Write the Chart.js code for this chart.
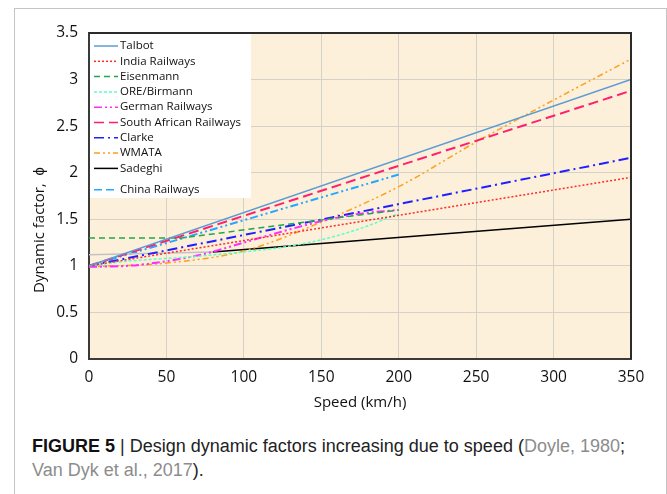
<!DOCTYPE html>
<html lang="en">
<head>
  <meta charset="UTF-8">
  <title>Design dynamic factors</title>
  <script src="https://cdn.jsdelivr.net/npm/chart.js"></script>
  <style>
    body { margin: 0; background: #fff; width: 667px; height: 494px; overflow: hidden; position: relative; }
    .frame { position: absolute; left: 14px; top: 8px; width: 653px; height: 500px; box-sizing: border-box; border: 1px solid #c4c4c4; }
    .wrap { position: absolute; left: 0; top: 0; width: 667px; height: 420px; }
    .caption { position: absolute; left: 32px; top: 434px; width: 632px; font-family: "Liberation Sans", Roboto, sans-serif; font-size: 18px; line-height: 24px; color: #222; }
    .caption b { color: #111; }
    .caption span { color: #8c8c8c; }
  </style>
</head>
<body>
  <div class="frame"></div>
  <div class="wrap"><canvas id="myChart" width="667" height="420"></canvas></div>
  <div class="caption"><b>FIGURE 5</b> | Design dynamic factors increasing due to speed (<span>Doyle, 1980</span>;<br><span>Van Dyk et al., 2017</span>).</div>

  <script>
    // values
    const speedFull = [0, 350];
    const talbot = [1.0, 3.0];
    const indiaRailways = [1.0, 1.95];
    const southAfrican = [1.0, 2.88];
    const clarke = [1.0, 2.16];

    const eisenmannSpeed = [0, 60, 200];
    const eisenmann = [1.3, 1.3, 1.6];

    const curveSpeed = [0, 25, 50, 75, 100, 125, 150, 175, 200];
    const oreBirmann = [1.0, 1.05, 1.08, 1.11, 1.15, 1.2, 1.28, 1.4, 1.56];
    const germanRailways = [0.99, 1.0, 1.05, 1.13, 1.25, 1.37, 1.48, 1.56, 1.6];

    const wmataSpeed = [0, 50, 100, 150, 200, 250, 300, 350];
    const wmata = [0.99, 1.03, 1.16, 1.47, 1.85, 2.33, 2.78, 3.22];

    const sadeghiSpeed = [0, 80, 350];
    const sadeghi = [1.12, 1.15, 1.5];

    const chinaSpeed = [0, 200];
    const chinaRailways = [1.0, 1.98];

    const xTicks = [0, 50, 100, 150, 200, 250, 300, 350];
    const yTicks = [0, 0.5, 1, 1.5, 2, 2.5, 3, 3.5];

    const pts = (xs, ys) => xs.map((x, i) => ({ x: x, y: ys[i] }));

    const line = (label, data, color, dash, width, curved) => ({
      label: label,
      data: data,
      borderColor: color,
      backgroundColor: color,
      borderDash: dash,
      borderWidth: width,
      pointRadius: 0,
      fill: false,
      tension: curved ? 0.3 : 0,
      cubicInterpolationMode: curved ? 'monotone' : 'default'
    });

    const datasets = [
      line('Talbot', pts(speedFull, talbot), '#5b9bd5', [], 1.5),
      line('India Railways', pts(speedFull, indiaRailways), '#ff2a2a', [2, 2], 1.5),
      line('Eisenmann', pts(eisenmannSpeed, eisenmann), '#1fa64e', [6, 4], 1.5),
      line('ORE/Birmann', pts(curveSpeed, oreBirmann), '#5cffc4', [3, 2], 1.5, true),
      line('German Railways', pts(curveSpeed, germanRailways), '#ff2bff', [8, 3, 2, 3, 2, 3], 2, true),
      line('South African Railways', pts(speedFull, southAfrican), '#ff1f6a', [10, 5], 2),
      line('Clarke', pts(speedFull, clarke), '#1f1fff', [10, 4, 2, 4], 2),
      line('WMATA', pts(wmataSpeed, wmata), '#ff9f1a', [6, 3, 2, 3, 2, 3], 1.5, true),
      line('Sadeghi', pts(sadeghiSpeed, sadeghi), '#000000', [], 1.5),
      line('China Railways', pts(chinaSpeed, chinaRailways), '#24a8ff', [8, 3, 2, 3, 2, 3], 2)
    ];
    // first stretch of Sadeghi shows faint in the figure
    datasets[8].segment = { borderColor: ctx => ctx.p0.parsed.x < 80 ? '#c2c2c2' : '#000000' };
    datasets[9].legendDash = [8, 4];

    const plotLook = {
      id: 'plotLook',
      beforeDraw(chart) {
        const { ctx, chartArea: a } = chart;
        ctx.save();
        ctx.fillStyle = '#fcf0da';
        ctx.fillRect(a.left, a.top, a.right - a.left, a.bottom - a.top);
        ctx.restore();
      },
      afterDraw(chart) {
        const { ctx, chartArea: a } = chart;
        ctx.save();
        // top and right frame of the plot
        ctx.strokeStyle = '#2b2b2b';
        ctx.lineWidth = 2;
        ctx.beginPath();
        ctx.moveTo(a.left, a.top);
        ctx.lineTo(a.right, a.top);
        ctx.lineTo(a.right, a.bottom);
        ctx.stroke();

        // legend box sitting inside the plot
        ctx.fillStyle = '#ffffff';
        ctx.fillRect(a.left + 1, a.top + 1, 161, 164);
        ctx.font = '11.5px "Open Sans", sans-serif';
        ctx.textBaseline = 'middle';
        chart.data.datasets.forEach((ds, i) => {
          const y = a.top + 13 + i * 15.3 + (i === 9 ? 6 : 0);
          ctx.strokeStyle = ds.borderColor;
          ctx.lineWidth = 1.5;
          ctx.setLineDash(ds.legendDash || ds.borderDash);
          ctx.beginPath();
          ctx.moveTo(a.left + 5, y);
          ctx.lineTo(a.left + 29, y);
          ctx.stroke();
          ctx.setLineDash([]);
          ctx.fillStyle = '#111';
          ctx.fillText(ds.label, a.left + 31, y);
        });

        // y axis title
        ctx.translate(40, 230);
        ctx.rotate(-Math.PI / 2);
        ctx.font = '15px "Open Sans", sans-serif';
        ctx.textAlign = 'center';
        ctx.fillStyle = '#111';
        ctx.fillText('Dynamic factor,  \u03D5', 0, 0);
        ctx.restore();
      }
    };

    new Chart(document.getElementById('myChart'), {
      type: 'line',
      data: { datasets: datasets },
      plugins: [plotLook],
      options: {
        responsive: false,
        animation: false,
        layout: { padding: { top: 33, right: 36, bottom: 0, left: 0 } },
        plugins: { legend: { display: false }, tooltip: { enabled: false } },
        scales: {
          x: {
            type: 'linear',
            min: 0,
            max: 350,
            afterFit: s => { s.height = 61; },
            afterBuildTicks: s => { s.ticks = xTicks.map(v => ({ value: v })); },
            grid: { color: '#d6d1c6', drawTicks: false },
            border: { color: '#3a3a3a', width: 2 },
            ticks: { padding: 9, color: '#111', font: { family: 'Open Sans', size: 15.5 }, callback: v => String(v) },
            title: { display: true, text: 'Speed (km/h)', color: '#111', padding: { top: 0, bottom: 8 }, font: { family: 'Open Sans', size: 15 } }
          },
          y: {
            min: 0,
            max: 3.5,
            afterFit: s => { s.width = 89; },
            afterBuildTicks: s => { s.ticks = yTicks.map(v => ({ value: v })); },
            grid: { color: '#d6d1c6', drawTicks: false },
            border: { color: '#3a3a3a', width: 2 },
            ticks: { padding: 11, color: '#111', font: { family: 'Open Sans', size: 15.5 }, callback: v => String(v) }
          }
        }
      }
    });
  </script>
</body>
</html>
